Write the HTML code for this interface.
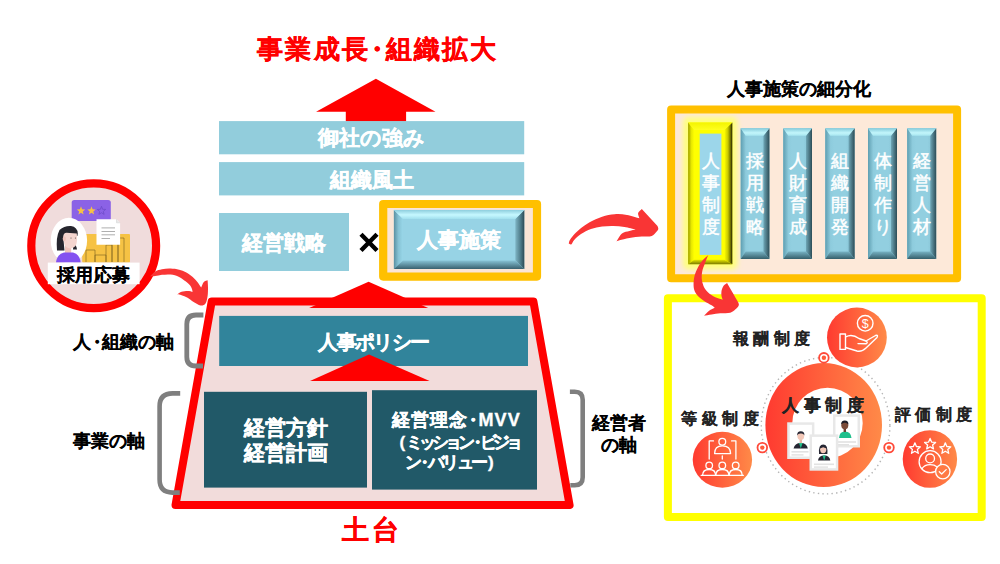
<!DOCTYPE html>
<html lang="ja">
<head>
<meta charset="utf-8">
<style>
html,body{margin:0;padding:0;background:#fff;}
body{width:1000px;height:564px;position:relative;overflow:hidden;font-family:"Liberation Sans",sans-serif;}
svg.bg{position:absolute;left:0;top:0;}
.t{position:absolute;white-space:nowrap;font-weight:bold;line-height:1;-webkit-text-stroke:0.35px currentColor;}
.c{display:flex;align-items:center;justify-content:center;text-align:center;}
.w{color:#fff;}
.k{-webkit-text-stroke:0.1px currentColor;}
.d{margin:0 -0.25em;}
</style>
</head>
<body>
<svg class="bg" width="1000" height="564" viewBox="0 0 1000 564">
<defs>
  <linearGradient id="pface" x1="0" y1="0" x2="1" y2="0">
    <stop offset="0" stop-color="#86c6d8"/><stop offset="0.3" stop-color="#92cfe0"/><stop offset="0.7" stop-color="#92cfe0"/><stop offset="1" stop-color="#7fbccd"/>
  </linearGradient>
  <linearGradient id="pleft" x1="0" y1="0" x2="1" y2="0">
    <stop offset="0" stop-color="#5e9fb2"/><stop offset="1" stop-color="#8cc9da"/>
  </linearGradient>
  <linearGradient id="pright" x1="0" y1="0" x2="1" y2="0">
    <stop offset="0" stop-color="#6fa7b7"/><stop offset="1" stop-color="#2c4d57"/>
  </linearGradient>
  <linearGradient id="ptop" x1="0" y1="0" x2="0" y2="1">
    <stop offset="0" stop-color="#84cbdb"/><stop offset="0.6" stop-color="#c2f5fb"/><stop offset="1" stop-color="#a7e6f0"/>
  </linearGradient>
  <linearGradient id="pbot" x1="0" y1="1" x2="0" y2="0">
    <stop offset="0" stop-color="#36606c"/><stop offset="1" stop-color="#79b4c5"/>
  </linearGradient>
  <linearGradient id="bleft" x1="0" y1="0" x2="1" y2="0">
    <stop offset="0" stop-color="#5b90a2"/><stop offset="0.5" stop-color="#86c2d4"/><stop offset="1" stop-color="#98d6e8"/>
  </linearGradient>
  <linearGradient id="bright" x1="0" y1="0" x2="1" y2="0">
    <stop offset="0" stop-color="#7fb6c6"/><stop offset="0.6" stop-color="#4d7a88"/><stop offset="1" stop-color="#2d4a55"/>
  </linearGradient>
  <linearGradient id="btop" x1="0" y1="0" x2="0" y2="1">
    <stop offset="0" stop-color="#8dcddd"/><stop offset="0.55" stop-color="#c6f8ff"/><stop offset="1" stop-color="#a2e0ee"/>
  </linearGradient>
  <linearGradient id="bbot" x1="0" y1="1" x2="0" y2="0">
    <stop offset="0" stop-color="#3a6270"/><stop offset="1" stop-color="#88c4d6"/>
  </linearGradient>
  <linearGradient id="yleft" x1="0" y1="0" x2="1" y2="0">
    <stop offset="0" stop-color="#9a9a00"/><stop offset="0.5" stop-color="#e6e600"/><stop offset="1" stop-color="#ffff00"/>
  </linearGradient>
  <linearGradient id="yright" x1="0" y1="0" x2="1" y2="0">
    <stop offset="0" stop-color="#ffff00"/><stop offset="0.45" stop-color="#c8c800"/><stop offset="0.8" stop-color="#6a6a00"/><stop offset="1" stop-color="#1e1e00"/>
  </linearGradient>
  <linearGradient id="ytop" x1="0" y1="0" x2="0" y2="1">
    <stop offset="0" stop-color="#f4f400"/><stop offset="1" stop-color="#ffff20"/>
  </linearGradient>
  <linearGradient id="ybot" x1="0" y1="1" x2="0" y2="0">
    <stop offset="0" stop-color="#7a7a00"/><stop offset="1" stop-color="#e8e800"/>
  </linearGradient>
  <linearGradient id="og" x1="0" y1="0" x2="1" y2="0">
    <stop offset="0" stop-color="#ff3a30"/><stop offset="1" stop-color="#ff8a48"/>
  </linearGradient>
  <filter id="glow" x="-30%" y="-10%" width="160%" height="120%">
    <feGaussianBlur stdDeviation="2.5"/>
  </filter>
</defs>
  <!-- big red arrow -->
  <polygon points="375.9,78.8 435.5,111.8 406.1,111.8 406.1,121.5 345.8,121.5 345.8,111.8 316.1,111.8" fill="#ff0000"/>
  <!-- bars -->
  <rect x="219" y="121.1" width="305.2" height="33.2" fill="#92cddc"/>
  <rect x="219" y="162.1" width="305.2" height="33.3" fill="#92cddc"/>
  <rect x="219" y="213" width="130" height="58" fill="#92cddc"/>
  <!-- orange frame -->
  <rect x="383.2" y="204" width="153.8" height="72.6" fill="#fbe5d6" stroke="#ffc000" stroke-width="8.2" stroke-linejoin="round"/>
  <!-- bevel button -->
  <rect x="393.9" y="209.9" width="130.4" height="59.0" fill="#97d3e5"/>
<polygon points="393.9,209.9 402.9,218.9 402.9,260.4 393.9,268.9" fill="url(#bleft)"/>
<polygon points="524.3,209.9 515.3,218.9 515.3,260.4 524.3,268.9" fill="url(#bright)"/>
<polygon points="393.9,209.9 524.3,209.9 515.3,218.9 402.9,218.9" fill="url(#btop)"/>
<polygon points="393.9,268.9 524.3,268.9 515.3,260.4 402.9,260.4" fill="url(#bbot)"/>

  <path d="M361,234.3 L377,250.5 M377,234.3 L361,250.5" stroke="#000" stroke-width="4.4"/>
  <!-- trapezoid -->
  <polygon points="211.7,301.5 533.4,301.5 569.6,505.1 175.5,505.1" fill="#f2dcdb" stroke="#ff0000" stroke-width="8" stroke-linejoin="round"/>
  <!-- arrow at top of trapezoid -->
  <polygon points="368.6,281.7 428.2,307.9 309.1,307.9" fill="#ff0000"/>
  <!-- policy bar -->
  <rect x="219.2" y="315.9" width="308.8" height="50.1" fill="#31849b"/>
  <!-- inner arrow -->
  <polygon points="369,354.5 429.6,381 310,381" fill="#ff0000"/>
  <!-- dark boxes -->
  <rect x="204" y="391.8" width="163" height="95.8" fill="#215968"/>
  <rect x="372" y="390.2" width="165" height="99.4" fill="#215968"/>

  <!-- brackets -->
  <path d="M203.4,315 H196 Q186.8,315 186.8,324 V357 Q186.8,366 196,366 H203" fill="none" stroke="#7f7f7f" stroke-width="4.8"/>
  <path d="M180.2,393.4 H172.6 Q159.6,393.4 159.6,406.4 V479.6 Q159.6,492.6 172.6,492.6 H179.8" fill="none" stroke="#7f7f7f" stroke-width="4.6"/>
  <path d="M569.9,391.7 H574.7 Q582.7,391.7 582.7,399.7 V477.2 Q582.7,485.2 574.7,485.2 H570.3" fill="none" stroke="#7f7f7f" stroke-width="4.6"/>

  <!-- recruit circle -->
  <circle cx="93.7" cy="245.8" r="62.4" fill="#f0dcdc" stroke="#ff0000" stroke-width="8.2"/>

  <!-- right panel orange frame -->
  <rect x="671.1" y="109.4" width="286" height="168.9" fill="#fde9d9" stroke="#ffc000" stroke-width="8" stroke-linejoin="round"/>
  <!-- pillar 1 yellow glow + bevel -->
  <rect x="683" y="117" width="54.5" height="152.5" rx="5" fill="#ffff80" filter="url(#glow)"/>
  <rect x="688.2" y="122.5" width="44.1" height="141.7" fill="#ffff00"/>
<polygon points="688.2,122.5 694.2,130.0 694.2,259.7 688.2,264.2" fill="url(#yleft)"/>
<polygon points="732.3,122.5 724.3,130.0 724.3,259.7 732.3,264.2" fill="url(#yright)"/>
<polygon points="688.2,122.5 732.3,122.5 724.3,130.0 694.2,130.0" fill="url(#ytop)"/>
<polygon points="688.2,264.2 732.3,264.2 724.3,259.7 694.2,259.7" fill="url(#ybot)"/>
  <rect x="699.7" y="133.6" width="21.7" height="121.3" fill="#9cd6ea"/>
  <rect x="740.7" y="128.3" width="28.7" height="130.6" fill="url(#pface)"/>
<polygon points="740.7,128.3 745.7,135.8 745.7,251.39999999999998 740.7,258.9" fill="url(#pleft)"/>
<polygon points="769.4,128.3 763.4,135.8 763.4,251.39999999999998 769.4,258.9" fill="url(#pright)"/>
<polygon points="740.7,128.3 769.4,128.3 763.4,135.8 745.7,135.8" fill="url(#ptop)"/>
<polygon points="740.7,258.9 769.4,258.9 763.4,251.39999999999998 745.7,251.39999999999998" fill="url(#pbot)"/>
<rect x="783.3" y="128.3" width="28.7" height="130.6" fill="url(#pface)"/>
<polygon points="783.3,128.3 788.3,135.8 788.3,251.39999999999998 783.3,258.9" fill="url(#pleft)"/>
<polygon points="812.0,128.3 806.0,135.8 806.0,251.39999999999998 812.0,258.9" fill="url(#pright)"/>
<polygon points="783.3,128.3 812.0,128.3 806.0,135.8 788.3,135.8" fill="url(#ptop)"/>
<polygon points="783.3,258.9 812.0,258.9 806.0,251.39999999999998 788.3,251.39999999999998" fill="url(#pbot)"/>
<rect x="825.3" y="128.3" width="29.3" height="130.6" fill="url(#pface)"/>
<polygon points="825.3,128.3 830.3,135.8 830.3,251.39999999999998 825.3,258.9" fill="url(#pleft)"/>
<polygon points="854.6,128.3 848.6,135.8 848.6,251.39999999999998 854.6,258.9" fill="url(#pright)"/>
<polygon points="825.3,128.3 854.6,128.3 848.6,135.8 830.3,135.8" fill="url(#ptop)"/>
<polygon points="825.3,258.9 854.6,258.9 848.6,251.39999999999998 830.3,251.39999999999998" fill="url(#pbot)"/>
<rect x="868.0" y="128.3" width="29.0" height="130.6" fill="url(#pface)"/>
<polygon points="868.0,128.3 873.0,135.8 873.0,251.39999999999998 868.0,258.9" fill="url(#pleft)"/>
<polygon points="897.0,128.3 891.0,135.8 891.0,251.39999999999998 897.0,258.9" fill="url(#pright)"/>
<polygon points="868.0,128.3 897.0,128.3 891.0,135.8 873.0,135.8" fill="url(#ptop)"/>
<polygon points="868.0,258.9 897.0,258.9 891.0,251.39999999999998 873.0,251.39999999999998" fill="url(#pbot)"/>
<rect x="907.2" y="128.3" width="29.0" height="130.6" fill="url(#pface)"/>
<polygon points="907.2,128.3 912.2,135.8 912.2,251.39999999999998 907.2,258.9" fill="url(#pleft)"/>
<polygon points="936.2,128.3 930.2,135.8 930.2,251.39999999999998 936.2,258.9" fill="url(#pright)"/>
<polygon points="907.2,128.3 936.2,128.3 930.2,135.8 912.2,135.8" fill="url(#ptop)"/>
<polygon points="907.2,258.9 936.2,258.9 930.2,251.39999999999998 912.2,251.39999999999998" fill="url(#pbot)"/>
  <!-- lower yellow frame -->
  <rect x="667.9" y="298.3" width="313.8" height="218.8" fill="#ffffff" stroke="#ffff00" stroke-width="8" stroke-linejoin="round"/>

  <!-- dotted circle -->
  <ellipse cx="825.6" cy="425.7" rx="64.3" ry="68.2" fill="none" stroke="#b4b4b4" stroke-width="1.4" stroke-dasharray="1.4 3.2"/>
  <!-- circles -->
  <ellipse cx="823.7" cy="425" rx="58.3" ry="62.1" fill="url(#og)"/>
  <circle cx="827.5" cy="423" r="35.2" fill="#fff"/>
  <circle cx="856.9" cy="337.5" r="29.9" fill="url(#og)"/>
  <ellipse cx="722.4" cy="459.75" rx="29.7" ry="28" fill="url(#og)"/>
  <ellipse cx="929.9" cy="459" rx="27.2" ry="28.85" fill="url(#og)"/>
  <!-- ring dots -->
  <g fill="#fff" stroke="#ff4a3a" stroke-width="1.8">
    <circle cx="823.9" cy="357.8" r="4.8"/>
    <circle cx="762.3" cy="447.6" r="4.8"/>
    <circle cx="889" cy="447.6" r="4.8"/>
  </g>
  <g fill="#ff5a3a"><circle cx="823.9" cy="357.8" r="2.2"/><circle cx="762.3" cy="447.6" r="2.2"/><circle cx="889" cy="447.6" r="2.2"/></g>

  <!-- curved arrows -->
  <path d="M150.1,276.5 C150.9,275.6 153.2,272.6 155.2,271.4 C157.2,270.2 159.4,269.7 162.0,269.2 C164.6,268.7 167.8,268.5 170.6,268.6 C173.4,268.7 176.5,269.1 179.1,269.7 C181.7,270.3 183.6,271.0 185.9,272.2 C188.2,273.4 190.7,275.2 192.7,276.9 C194.7,278.6 196.4,280.6 197.8,282.4 C199.2,284.2 200.6,286.7 201.2,287.6 C201.6,286.7 202.7,283.2 203.8,282.0 C204.9,280.8 207.0,280.6 207.6,280.3 C207.7,281.5 208.0,285.0 208.0,287.6 C208.0,290.2 208.0,293.5 207.6,296.1 C207.2,298.8 206.7,301.9 205.5,303.5 C204.3,305.1 202.5,305.8 200.5,305.5 C198.5,305.2 195.8,303.3 193.6,302.0 C191.4,300.7 189.6,298.9 187.6,297.8 C185.6,296.7 183.3,295.8 181.6,295.2 C179.9,294.6 178.1,294.4 177.4,294.2 C178.1,293.8 179.9,292.3 181.6,291.8 C183.3,291.3 185.8,291.0 187.6,291.0 C189.4,291.0 191.8,291.7 192.7,291.8 C192.4,290.9 192.1,288.4 191.0,286.7 C189.9,285.0 187.9,283.2 185.9,281.6 C183.9,280.0 181.7,278.1 179.1,276.9 C176.5,275.7 173.4,275.0 170.6,274.6 C167.8,274.2 164.6,274.6 162.0,274.8 C159.4,275.1 157.2,275.8 155.2,276.1 C153.2,276.4 150.9,276.4 150.1,276.5 Z" fill="#f93535"/>
  <path d="M568.8,243.8 C568.9,243.2 568.9,241.9 569.6,240.5 C570.3,239.1 571.5,237.3 573.2,235.4 C574.9,233.5 576.9,231.4 579.6,229.2 C582.3,227.0 585.9,224.4 589.6,222.3 C593.4,220.2 597.9,218.0 602.1,216.7 C606.3,215.3 610.5,214.5 614.6,214.2 C618.8,213.9 622.9,214.2 627.0,214.9 C631.1,215.6 637.3,217.6 639.4,218.2 C639.2,217.3 637.7,214.6 638.1,213.0 C638.5,211.4 641.2,209.6 641.8,208.9 L657.5,226.0 C657.6,226.5 658.4,227.9 658.3,228.8 C658.2,229.7 657.8,230.3 656.7,231.5 C655.6,232.7 654.3,235.1 651.8,235.9 C649.3,236.8 645.5,236.3 641.8,236.6 C638.1,236.9 633.1,237.3 629.4,237.9 C625.7,238.5 621.7,239.7 619.5,240.3 C617.3,240.9 616.9,241.3 616.4,241.5 C617.3,240.2 619.8,235.2 622.0,233.4 C624.2,231.6 627.1,231.6 629.4,230.9 C631.7,230.2 634.6,229.7 635.6,229.5 C633.8,229.1 628.2,227.6 624.5,227.0 C620.8,226.4 617.0,226.0 613.3,225.9 C609.6,225.8 605.8,226.0 602.1,226.5 C598.4,227.0 594.5,227.8 591.0,229.0 C587.5,230.2 583.8,232.2 581.0,234.0 C578.2,235.8 575.8,238.3 574.2,240.0 C572.6,241.7 572.4,243.6 571.5,244.2 C570.6,244.8 569.2,243.9 568.8,243.8 Z" fill="#f93535"/>
  <path d="M708.5,255.0 C707.6,255.8 704.7,257.9 702.9,260.0 C701.1,262.1 699.2,264.9 697.9,267.4 C696.5,269.9 695.5,272.3 694.8,274.8 C694.1,277.3 693.7,279.8 693.6,282.3 C693.5,284.8 693.5,287.4 694.2,289.7 C694.9,292.0 696.2,294.0 697.9,295.9 C699.5,297.8 701.8,299.3 704.1,300.9 C706.4,302.4 709.8,304.1 711.6,305.2 C713.4,306.3 714.2,307.3 714.7,307.7 C713.8,308.2 710.9,309.4 709.1,310.8 C707.3,312.2 704.9,315.0 704.1,315.8 C705.4,315.6 708.9,314.9 711.6,314.5 C714.3,314.1 717.2,313.6 720.3,313.3 C723.4,313.0 727.7,313.3 730.2,312.7 C732.7,312.1 733.8,311.0 735.2,309.6 C736.7,308.2 738.9,306.7 738.9,304.6 C738.9,302.5 736.7,299.9 735.2,297.2 C733.8,294.5 731.6,290.9 730.2,288.5 C728.9,286.1 727.6,283.8 727.1,282.9 C726.5,283.4 724.3,284.6 723.4,286.0 C722.5,287.4 721.8,289.4 721.5,291.0 C721.2,292.6 721.3,294.4 721.5,295.9 C721.7,297.3 722.6,299.1 722.8,299.7 C721.5,299.3 717.8,298.4 715.3,297.2 C712.8,295.9 709.9,294.1 707.9,292.2 C705.9,290.3 704.5,288.3 703.5,286.0 C702.5,283.7 701.9,281.1 701.7,278.6 C701.5,276.1 701.8,273.6 702.3,271.1 C702.8,268.6 704.0,266.0 704.8,263.7 C705.6,261.4 706.6,258.8 707.2,257.4 C707.8,255.9 708.3,255.4 708.5,255.0 Z" fill="#f93535"/>

  <!-- recruit illustration -->
  <rect x="71.7" y="200" width="39.1" height="21" rx="2.5" fill="#8b62e6"/>
  <g fill="#f6c244">
    <polygon points="81,206.3 82.1,209.3 85.2,209.4 82.8,211.4 83.6,214.4 81,212.7 78.4,214.4 79.2,211.4 76.8,209.4 79.9,209.3"/>
    <polygon points="91.5,206.3 92.6,209.3 95.7,209.4 93.3,211.4 94.1,214.4 91.5,212.7 88.9,214.4 89.7,211.4 87.3,209.4 90.4,209.3"/>
  </g>
  <polygon points="101.5,206.3 102.6,209.3 105.7,209.4 103.3,211.4 104.1,214.4 101.5,212.7 98.9,214.4 99.7,211.4 97.3,209.4 100.4,209.3" fill="none" stroke="#6d4bc8" stroke-width="0.8"/>
  <rect x="82.2" y="234" width="47.8" height="28.6" rx="1" fill="#f6c244"/>
  <g stroke="#7a6020" stroke-width="0.6" fill="none">
    <path d="M86,262 V250 H95 V262"/><path d="M95,262 V255 H106 V262"/><path d="M106,262 V245 H112 V262"/><path d="M112,262 V240 H118 V262"/><path d="M118,262 V238 H124 V262"/>
  </g>
  <path d="M96.5,219.2 H116.5 L120.1,222.8 V244.7 H96.5 Z" fill="#fff"/>
  <path d="M116.5,219.2 V222.8 H120.1" fill="#e8e8e8" stroke="#cfcfcf" stroke-width="0.5"/>
  <g stroke="#9a9a9a" stroke-width="0.8"><path d="M101.5,227.9 H115"/><path d="M101.5,231.5 H115"/><path d="M101.5,234.8 H115"/><path d="M101.5,238.5 H110"/></g>
  <ellipse cx="68.9" cy="240.5" rx="18.2" ry="22.8" fill="#fff"/>
  <path d="M57,250.5 Q55.8,237 59.5,230 Q64.5,225.5 71,226 Q77.5,227 77.8,233.5 L77.4,236 L66,233.2 Q63.2,236 63.6,241 L64.5,250.5 Z" fill="#25252d"/>
  <path d="M73.5,243 Q76.5,245 77,249.5 L73,249.5 Z" fill="#25252d"/>
  <rect x="65" y="245" width="6.2" height="8.5" fill="#eec3bb"/>
  <path d="M63.2,236.5 Q63.5,233 66.5,232.8 L76.8,233.4 Q77.4,241 76.2,244.6 Q74.5,248.4 70.2,248.4 Q65.5,248 64.3,244 Z" fill="#f4d5cf"/>
  <ellipse cx="64.3" cy="238.8" rx="1.6" ry="2.2" fill="#eec3bb"/>
  <path d="M56,262.6 Q56.8,254.3 64,252.6 L73,252.6 Q80,254.3 80.6,262.6 Z" fill="#8452f0"/>
  <g fill="#333"><circle cx="71" cy="238" r="0.5"/><circle cx="75.4" cy="238" r="0.5"/></g>
  <rect x="47.8" y="262.6" width="91.8" height="21.6" fill="#fff"/>

  <!-- icons: reward -->
  <g fill="none" stroke="#fff" stroke-width="1.4" stroke-linejoin="round" stroke-linecap="round">
    <circle cx="865.2" cy="323.3" r="7.8"/>
    <rect x="840" y="334" width="5.5" height="15.4"/>
    <path d="M845.5,337 Q852,333.5 859,338.5 L866,341 Q868.5,342.5 866,343.8 L858,343.6"/>
    <path d="M845.5,347.5 L857,351 Q862,352 866,348 L877,337.5 Q878.5,334.5 875.5,335.5 L866,341"/>
  </g>
  <text x="865.2" y="327.6" font-family="Liberation Sans" font-size="12.5" fill="#fff" text-anchor="middle">$</text>

  <!-- icons: grade -->
  <g fill="none" stroke="#fff" stroke-width="1.3" stroke-linecap="round" stroke-linejoin="round">
    <circle cx="722.3" cy="441.8" r="3.4"/>
    <path d="M714.6,453.6 Q714.6,445.9 722.3,445.9 Q730.6,445.9 730.6,453.6 Z"/>
    <path d="M713.5,440.9 H709.2 V459.1"/><path d="M731.6,440.9 H735.9 V459.1"/>
    <path d="M722.3,456 V459.1"/>
    <circle cx="709.2" cy="465.4" r="3.3"/><circle cx="722.3" cy="465.4" r="3.3"/><circle cx="735.7" cy="465.4" r="3.3"/>
    <path d="M702.6,475.3 Q702.6,469.5 709.2,469.5 Q715.6,469.5 715.6,475.3"/>
    <path d="M715.8,475.3 Q715.8,469.5 722.3,469.5 Q728.9,469.5 728.9,475.3"/>
    <path d="M729.2,475.3 Q729.2,469.5 735.7,469.5 Q742.2,469.5 742.2,475.3"/>
    <path d="M701.1,475.3 H743.4"/>
  </g>

  <!-- icons: evaluation -->
  <g fill="none" stroke="#fff" stroke-width="1.3" stroke-linejoin="round" stroke-linecap="round">
    <polygon points="914.9,442.8 916.4,446.5 920.4,446.8 917.4,449.4 918.3,453.3 914.9,451.2 911.5,453.3 912.4,449.4 909.4,446.8 913.4,446.5"/>
    <polygon points="930.1,438.4 931.6,442.1 935.6,442.4 932.6,445.0 933.5,448.9 930.1,446.8 926.7,448.9 927.6,445.0 924.6,442.4 928.6,442.1"/>
    <polygon points="945.3,442.8 946.8,446.5 950.8,446.8 947.8,449.4 948.7,453.3 945.3,451.2 941.9,453.3 942.8,449.4 939.8,446.8 943.8,446.5"/>
    <circle cx="930.1" cy="461.7" r="11"/>
    <circle cx="930.1" cy="458.4" r="4.4"/>
    <path d="M922,468.6 Q924.5,464.6 930.1,464.6 Q934.5,464.6 936.8,466.8"/>
  </g>
  <circle cx="942.8" cy="471.6" r="7.2" fill="#ff7a44" stroke="#fff" stroke-width="1.3"/>
  <path d="M939.3,471.7 L941.7,474 L946.2,469.6" fill="none" stroke="#fff" stroke-width="1.3" stroke-linecap="round" stroke-linejoin="round"/>

  <!-- photo cards -->
  <g>
    <!-- card B -->
    <rect x="833" y="414.3" width="27" height="33.2" fill="#e8e8e8"/>
    <rect x="835.5" y="416.8" width="22" height="28.2" fill="#fff"/>
    <path d="M839,438 Q839.5,431.6 845,431.6 Q850.8,431.6 851.5,438 Z" fill="#1fbf8b"/>
    <rect x="843.6" y="428" width="2.4" height="4" fill="#6a3f30"/>
    <ellipse cx="844.8" cy="425.2" rx="3.5" ry="4" fill="#7a4a38"/>
    <path d="M841.2,424.5 Q841,420.6 844.8,420.6 Q848.6,420.6 848.4,424.5 Q846.5,422.6 844.8,422.8 Q843,422.6 841.2,424.5 Z" fill="#1e1e28"/>
    <rect x="837" y="441.2" width="19" height="1.6" fill="#e2e2e2"/><rect x="837" y="444" width="12" height="1.4" fill="#e2e2e2"/>

    <!-- card A -->
    <rect x="787.2" y="422.3" width="27.2" height="36.7" fill="#e8e8e8"/>
    <rect x="789.7" y="424.8" width="22.2" height="31.7" fill="#fff"/>
    <path d="M793.6,448.6 Q794.5,442.9 800.8,442.9 Q807,442.9 807.8,448.6 Z" fill="#262633"/>
    <path d="M799,442.9 L800.8,448.6 L802.6,442.9 Z" fill="#1fbf8b"/>
    <rect x="799.6" y="438.5" width="2.4" height="4.6" fill="#e9b8a6"/>
    <ellipse cx="800.8" cy="436" rx="3.4" ry="3.9" fill="#f3c8b8"/>
    <path d="M797.2,435.5 Q797,431.3 800.8,431.3 Q804.6,431.3 804.4,435.5 Q803.5,433.3 800.8,433.6 Q798.2,433.3 797.2,435.5 Z" fill="#262633"/>
    <rect x="791.5" y="451" width="17" height="1.6" fill="#e2e2e2"/><rect x="791.5" y="454.2" width="12" height="1.4" fill="#e2e2e2"/>

    <!-- card C -->
    <rect x="809.5" y="434.4" width="28.8" height="36.3" fill="#e8e8e8"/>
    <rect x="812" y="436.9" width="23.8" height="31.3" fill="#fff"/>
    <path d="M818,460.5 Q818.8,455.4 824.2,455.4 Q829.6,455.4 830.3,460.5 Z" fill="#262633"/>
    <path d="M822.6,455.4 L824.2,460.5 L825.8,455.4 Z" fill="#1fbf8b"/>
    <path d="M819,454 Q818.3,444.6 823.2,444.6 Q828.1,444.6 827.4,454 Z" fill="#262633"/>
    <ellipse cx="823.2" cy="449.6" rx="3.1" ry="3.7" fill="#f3c8b8"/>
    <path d="M819.8,448.5 Q820,445.2 823.2,445.2 Q826.4,445.2 826.6,448.5 L823.2,447.2 Z" fill="#262633"/>
    <rect x="814" y="463.5" width="20" height="1.6" fill="#e2e2e2"/><rect x="814" y="466.4" width="14" height="1.4" fill="#e2e2e2"/>
  </g>
</svg>

<div class="t" style="left:257px;top:36px;font-size:26px;letter-spacing:2.3px;color:#ff0000;">事業成長<span class="d">・</span>組織拡大</div>
<div class="t c w" style="left:219px;top:121.5px;width:305px;height:33px;font-size:20.5px;">御社の強み</div>
<div class="t c w" style="left:219px;top:162.5px;width:305px;height:33px;font-size:21px;">組織風土</div>
<div class="t c w" style="left:219px;top:213px;width:130px;height:58px;font-size:21px;">経営戦略</div>
<div class="t c w" style="left:393px;top:209px;width:131px;height:60px;font-size:21px;">人事施策</div>
<div class="t c w" style="left:219px;top:317px;width:309px;height:50px;font-size:20px;letter-spacing:-1.6px;">人事ポリシー</div>
<div class="t c w" style="left:204px;top:391px;width:163px;height:98px;font-size:21px;line-height:25px;">経営方針<br>経営計画</div>
<div class="t w" style="left:392px;top:411px;font-size:18px;letter-spacing:1.1px;">経営理念<span class="d">・</span>MVV</div>
<div class="t w" style="left:399.5px;top:433.5px;font-size:17px;letter-spacing:-4px;">(<span style="margin-left:5px">ミッション</span><span style="margin:0 -0.12em">・</span>ビジョ</div>
<div class="t w" style="left:404.5px;top:454px;font-size:17px;letter-spacing:-2.8px;">ン<span style="margin:0 -0.14em">・</span>バリュー<span style="margin-left:3px">)</span></div>
<div class="t" style="left:341.5px;top:517px;font-size:27px;letter-spacing:3.8px;color:#ff0000;">土台</div>
<div class="t k" style="left:73px;top:333.5px;font-size:17.5px;color:#000;">人<span style="margin:0 -0.19em">・</span>組織の軸</div>
<div class="t k" style="left:73px;top:432.5px;font-size:17.5px;color:#000;">事業の軸</div>
<div class="t k" style="left:591px;top:412px;width:56px;text-align:center;font-size:17.5px;color:#000;line-height:22px;">経営者<br>の軸</div>

<div class="t" style="left:56.5px;top:265.5px;font-size:18px;letter-spacing:0.6px;color:#000;-webkit-text-stroke:0.15px #000;">採用応募</div>
<div class="t k" style="left:727px;top:80px;font-size:18px;color:#000;">人事施策の細分化</div>
<div class="t w" style="left:740.05px;top:152.0px;width:30px;text-align:center;font-size:18px;font-weight:normal;-webkit-text-stroke:0.45px #fff;">採</div>
<div class="t w" style="left:740.05px;top:174.0px;width:30px;text-align:center;font-size:18px;font-weight:normal;-webkit-text-stroke:0.45px #fff;">用</div>
<div class="t w" style="left:740.05px;top:196.0px;width:30px;text-align:center;font-size:18px;font-weight:normal;-webkit-text-stroke:0.45px #fff;">戦</div>
<div class="t w" style="left:740.05px;top:218.0px;width:30px;text-align:center;font-size:18px;font-weight:normal;-webkit-text-stroke:0.45px #fff;">略</div>
<div class="t w" style="left:782.65px;top:152.0px;width:30px;text-align:center;font-size:18px;font-weight:normal;-webkit-text-stroke:0.45px #fff;">人</div>
<div class="t w" style="left:782.65px;top:174.0px;width:30px;text-align:center;font-size:18px;font-weight:normal;-webkit-text-stroke:0.45px #fff;">財</div>
<div class="t w" style="left:782.65px;top:196.0px;width:30px;text-align:center;font-size:18px;font-weight:normal;-webkit-text-stroke:0.45px #fff;">育</div>
<div class="t w" style="left:782.65px;top:218.0px;width:30px;text-align:center;font-size:18px;font-weight:normal;-webkit-text-stroke:0.45px #fff;">成</div>
<div class="t w" style="left:824.95px;top:152.0px;width:30px;text-align:center;font-size:18px;font-weight:normal;-webkit-text-stroke:0.45px #fff;">組</div>
<div class="t w" style="left:824.95px;top:174.0px;width:30px;text-align:center;font-size:18px;font-weight:normal;-webkit-text-stroke:0.45px #fff;">織</div>
<div class="t w" style="left:824.95px;top:196.0px;width:30px;text-align:center;font-size:18px;font-weight:normal;-webkit-text-stroke:0.45px #fff;">開</div>
<div class="t w" style="left:824.95px;top:218.0px;width:30px;text-align:center;font-size:18px;font-weight:normal;-webkit-text-stroke:0.45px #fff;">発</div>
<div class="t w" style="left:867.5px;top:152.0px;width:30px;text-align:center;font-size:18px;font-weight:normal;-webkit-text-stroke:0.45px #fff;">体</div>
<div class="t w" style="left:867.5px;top:174.0px;width:30px;text-align:center;font-size:18px;font-weight:normal;-webkit-text-stroke:0.45px #fff;">制</div>
<div class="t w" style="left:867.5px;top:196.0px;width:30px;text-align:center;font-size:18px;font-weight:normal;-webkit-text-stroke:0.45px #fff;">作</div>
<div class="t w" style="left:867.5px;top:218.0px;width:30px;text-align:center;font-size:18px;font-weight:normal;-webkit-text-stroke:0.45px #fff;">り</div>
<div class="t w" style="left:906.7px;top:152.0px;width:30px;text-align:center;font-size:18px;font-weight:normal;-webkit-text-stroke:0.45px #fff;">経</div>
<div class="t w" style="left:906.7px;top:174.0px;width:30px;text-align:center;font-size:18px;font-weight:normal;-webkit-text-stroke:0.45px #fff;">営</div>
<div class="t w" style="left:906.7px;top:196.0px;width:30px;text-align:center;font-size:18px;font-weight:normal;-webkit-text-stroke:0.45px #fff;">人</div>
<div class="t w" style="left:906.7px;top:218.0px;width:30px;text-align:center;font-size:18px;font-weight:normal;-webkit-text-stroke:0.45px #fff;">材</div>
<div class="t w" style="left:695.5px;top:152.0px;width:30px;text-align:center;font-size:18px;font-weight:normal;-webkit-text-stroke:0.45px #fff;">人</div>
<div class="t w" style="left:695.5px;top:174.0px;width:30px;text-align:center;font-size:18px;font-weight:normal;-webkit-text-stroke:0.45px #fff;">事</div>
<div class="t w" style="left:695.5px;top:196.0px;width:30px;text-align:center;font-size:18px;font-weight:normal;-webkit-text-stroke:0.45px #fff;">制</div>
<div class="t w" style="left:695.5px;top:218.0px;width:30px;text-align:center;font-size:18px;font-weight:normal;-webkit-text-stroke:0.45px #fff;">度</div>

<div class="t k" style="left:732.5px;top:330.5px;font-size:16px;letter-spacing:4.6px;color:#222;">報酬制度</div>
<div class="t k" style="left:681px;top:410.5px;font-size:16px;letter-spacing:4.5px;color:#222;">等級制度</div>
<div class="t k" style="left:894.5px;top:407px;font-size:16px;letter-spacing:4.6px;color:#222;">評価制度</div>
<div class="t k" style="left:782px;top:397px;font-size:17px;letter-spacing:4.5px;color:#222;">人事制度</div>
</body>
</html>
